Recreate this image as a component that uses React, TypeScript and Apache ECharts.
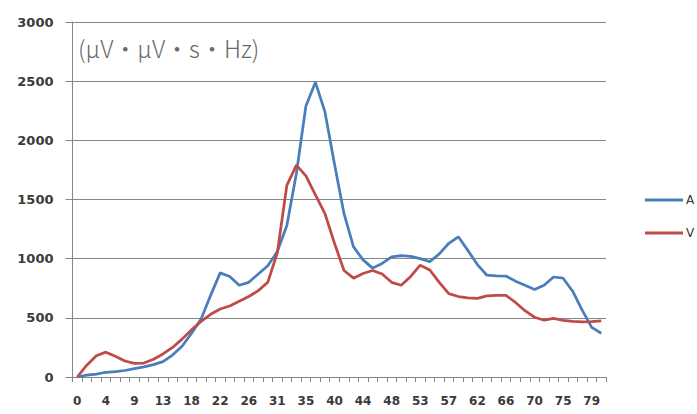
import React, { useEffect, useRef } from "react";
import * as echarts from "echarts";

const categories: string[] = [
  "0", "1", "3", "4", "6", "7", "9", "10", "12", "13",
  "15", "16", "18", "19", "21", "22", "23", "25", "26", "28",
  "29", "31", "32", "34", "35", "37", "38", "40", "41", "42",
  "44", "45", "47", "48", "50", "51", "53", "54", "56", "57",
  "59", "60", "62", "63", "64", "66", "67", "69", "70", "72",
  "73", "75", "76", "78", "79", "81",
];

const seriesA: number[] = [
  0, 15, 25, 40, 45, 55, 70, 85, 105, 130,
  185, 260, 370, 490, 690, 880, 850, 775, 800, 870,
  940, 1060, 1280, 1720, 2290, 2490, 2240, 1800, 1380, 1100,
  990, 920, 960, 1015, 1025, 1020, 1000, 975, 1040, 1130,
  1185, 1070, 950, 860, 855, 853, 810, 775, 740, 775,
  845, 835, 725, 565, 420, 370,
];

const seriesV: number[] = [
  0, 100, 180, 210, 175, 135, 115, 118, 150, 195,
  250, 320, 400, 470, 530, 575, 600, 640, 680, 730,
  800, 1050, 1620, 1790, 1700, 1540, 1380, 1130, 900, 835,
  875, 900, 870, 800, 775, 850, 945, 905, 800, 705,
  680, 668, 665, 685, 690, 690, 630, 560, 505, 480,
  495, 478, 470, 465, 468, 475,
];

const seriesNames: string[] = ["A", "V"];
const unitLabel = "(μV・μV・s・Hz)";

export default function App() {
  const ref = useRef<HTMLDivElement>(null);
  useEffect(() => {
    if (!ref.current) return;
    const chart = echarts.init(ref.current, null, { renderer: "svg" });
    const gray = "#868686";
    chart.setOption({
      animation: false,
      backgroundColor: "#ffffff",
      grid: { left: 72.5, right: 91, top: 22, bottom: 37, containLabel: false },
      legend: {
        orient: "vertical",
        left: 640,
        top: 189,
        itemGap: 21,
        itemWidth: 38,
        itemHeight: 3,
        icon: "rect",
        textStyle: { fontFamily: "DejaVu Sans", fontSize: 12, color: "#333", padding: [0, 0, 0, -2] },
        data: seriesNames,
      },
      graphic: [
        {
          type: "text",
          left: 78,
          top: 35,
          style: {
            text: unitLabel,
            fontFamily: "Noto Sans CJK JP",
            fontWeight: 300,
            fontSize: 24,
            fill: "#6a6a6a",
          },
        },
      ],
      xAxis: {
        type: "category",
        data: categories,
        boundaryGap: true,
        axisLine: { show: true, lineStyle: { color: gray, width: 1 } },
        axisTick: { show: true, interval: 0, length: 5, lineStyle: { color: gray } },
        axisLabel: {
          interval: 2,
          margin: 18,
          fontFamily: "DejaVu Sans",
          fontWeight: "bold",
          fontSize: 12,
          color: "#3a3a3a",
        },
        splitLine: { show: false },
      },
      yAxis: {
        type: "value",
        min: 0,
        max: 3000,
        interval: 500,
        axisLine: { show: true, lineStyle: { color: gray, width: 1 } },
        axisTick: { show: true, length: 7, lineStyle: { color: gray } },
        axisLabel: {
          margin: 19,
          formatter: (v: number) => String(v),
          fontFamily: "DejaVu Sans",
          fontWeight: "bold",
          fontSize: 13,
          color: "#3a3a3a",
        },
        splitLine: { show: true, lineStyle: { color: gray, width: 1 } },
      },
      series: [
        {
          name: seriesNames[0],
          type: "line",
          data: seriesA,
          showSymbol: false,
          symbol: "none",
          smooth: false,
          lineStyle: { color: "#4a7ebb", width: 2.75 },
          itemStyle: { color: "#4a7ebb" },
        },
        {
          name: seriesNames[1],
          type: "line",
          data: seriesV,
          showSymbol: false,
          symbol: "none",
          smooth: false,
          lineStyle: { color: "#be4b48", width: 2.75 },
          itemStyle: { color: "#be4b48" },
        },
      ],
    });
    return () => chart.dispose();
  }, []);
  return (
    <div
      ref={ref}
      style={{ position: "absolute", left: 0, top: 0, width: 697, height: 414 }}
    />
  );
}
